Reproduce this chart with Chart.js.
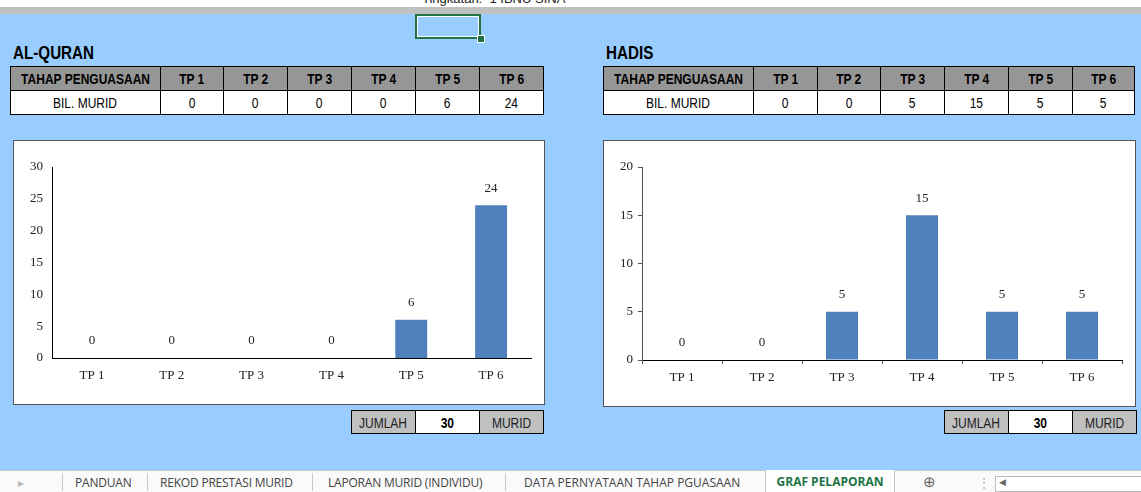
<!DOCTYPE html>
<html>
<head>
<meta charset="utf-8">
<script src="https://cdn.jsdelivr.net/npm/chart.js@4/dist/chart.umd.min.js"></script>
<style>
  html, body { margin: 0; padding: 0; }
  body { width: 1141px; height: 492px; position: relative; overflow: hidden; background: #99CCFF; font-family: "Liberation Sans", Arial, sans-serif; }
  .abs { position: absolute; }
  .narrow { display: inline-block; margin: 0 -40px; transform: scaleX(0.8); transform-origin: center; white-space: nowrap; }
  #topWhite { left: 0; top: 0; width: 1141px; height: 7px; background: #fff; overflow: hidden; }
  #topGray { left: 0; top: 7px; width: 1141px; height: 7px; background: #C0C0C0; }
  #tingkatan { left: 422px; top: -9px; font-size: 13px; color: #222; white-space: nowrap; }
  #cellSel { left: 415px; top: 14px; width: 62px; height: 21px; border: 2px solid #217346; box-shadow: inset 0 0 0 1px #fff; }
  #cellHandle { left: 477px; top: 35px; width: 6px; height: 6px; background: #217346; border: 1px solid #fff; }
  .title { font-weight: bold; font-size: 19px; color: #000; transform: scaleX(0.8); transform-origin: left center; }
  table.sheet { position: absolute; border-collapse: collapse; table-layout: fixed; }
  table.sheet td { border: 1px solid #000; height: 23px; padding: 0; text-align: center; font-size: 15px; color: #000; overflow: hidden; white-space: nowrap; }
  table.sheet tr.head td { background: #969696; font-weight: bold; }
  table.sheet tr.body td { background: #fff; }
  table.total td { background: #C0C0C0; color: #222; height: 22px; }
  table.total td.num { background: #fff; font-weight: bold; color: #000; }
  .chartBox { position: absolute; background: #fff; border: 1px solid #555; box-sizing: border-box; }
  .chartBox canvas { display: block; }
  #tabs { left: 0; top: 470px; width: 1141px; height: 22px; background: #fafafa; border-top: 1px solid #c6c6c6; font-family: "Open Sans", "Noto Sans", sans-serif; font-size: 12px; color: #444; }
  .tab { position: absolute; top: 3px; white-space: nowrap; letter-spacing: -0.2px; }
  .sep { position: absolute; top: 2px; width: 1px; height: 18px; background: #c8c8c8; }
  #active { position: absolute; left: 765px; top: -1px; width: 128px; height: 23px; background: #fff; border-left: 1px solid #c6c6c6; border-right: 1px solid #c6c6c6; color: #217346; font-weight: bold; text-align: center; line-height: 24px; }
</style>
</head>
<body>
<div class="abs" id="topWhite"><div class="abs" id="tingkatan">Tingkatan:&nbsp;&nbsp;1 IBNU SINA</div></div>
<div class="abs" id="topGray"></div>
<div class="abs" id="cellSel"></div>
<div class="abs" id="cellHandle"></div>

<div class="abs title" style="left:13px; top:42px;">AL-QURAN</div>
<div class="abs title" style="left:606px; top:42px;">HADIS</div>

<table class="sheet" id="tblQuran" style="left:10px; top:66px;"></table>
<table class="sheet" id="tblHadis" style="left:603px; top:66px;"></table>

<div class="chartBox" style="left:13px; top:140px; width:532px; height:265px;"><canvas id="chartQuran"></canvas></div>
<div class="chartBox" style="left:603px; top:140px; width:533px; height:267px;"><canvas id="chartHadis"></canvas></div>

<table class="sheet total" id="totQuran" style="left:351px; top:410px;"></table>
<table class="sheet total" id="totHadis" style="left:944px; top:410px;"></table>

<div class="abs" id="tabs">
  <div class="tab" style="left:18px; color:#bbb;">&#9656;</div>
  <div class="sep" style="left:62px;"></div>
  <div class="tab" style="left:75px;">PANDUAN</div>
  <div class="sep" style="left:147px;"></div>
  <div class="tab" style="left:160px;">REKOD PRESTASI MURID</div>
  <div class="sep" style="left:312px;"></div>
  <div class="tab" style="left:328px;">LAPORAN MURID (INDIVIDU)</div>
  <div class="sep" style="left:505px;"></div>
  <div class="tab" style="left:524px; letter-spacing:0px;">DATA PERNYATAAN TAHAP PGUASAAN</div>
  <div id="active">GRAF PELAPORAN</div>
  <div class="tab" style="left:923px; font-size:15px; top:0px; color:#666;">&#8853;</div>
  <div class="tab" style="left:978px; color:#aaa;">&#8942;</div>
  <div class="abs" style="left:995px; top:5px; width:146px; height:14px; border:1px solid #bbb; background:#fff;"></div>
  <div class="tab" style="left:999px; top:4px; font-size:9px; color:#666;">&#9664;</div>
</div>

<script>
// data ---------------------------------------------------------------------
var categories = ['TP 1', 'TP 2', 'TP 3', 'TP 4', 'TP 5', 'TP 6'];
var headerLabels = ['TP 1', 'TP 2', 'TP 3', 'TP 4', 'TP 5', 'TP 6'];
var quranValues = [0, 0, 0, 0, 6, 24];
var hadisValues = [0, 0, 5, 15, 5, 5];
var quranMax = 30;
var hadisMax = 20;

// tables -------------------------------------------------------------------
function cell(text, cls) {
    return '<td' + (cls ? ' class="' + cls + '"' : '') + '><span class="narrow">' + text + '</span></td>';
}
function fillTable(id, widths, values) {
    var t = document.getElementById(id);
    var total = widths.reduce(function (a, b) { return a + b; }, 0);
    t.style.width = total + 'px';
    var html = '<colgroup>';
    widths.forEach(function (w) { html += '<col style="width:' + w + 'px">'; });
    html += '</colgroup><tr class="head">' + cell('TAHAP PENGUASAAN');
    headerLabels.forEach(function (h) { html += cell(h); });
    html += '</tr><tr class="body">' + cell('BIL. MURID');
    values.forEach(function (v) { html += cell(v); });
    html += '</tr>';
    t.innerHTML = html;
}
function fillTotal(id, values) {
    var sum = values.reduce(function (a, b) { return a + b; }, 0);
    var t = document.getElementById(id);
    t.style.width = '192px';
    t.innerHTML =
        '<colgroup><col style="width:64px"><col style="width:64px"><col style="width:64px"></colgroup>' +
        '<tr>' + cell('JUMLAH') + cell(sum, 'num') + cell('MURID') + '</tr>';
}
fillTable('tblQuran', [150, 63, 64, 64, 64, 64, 64], quranValues);
fillTable('tblHadis', [150, 64, 63, 64, 64, 64, 62], hadisValues);
fillTotal('totQuran', quranValues);
fillTotal('totHadis', hadisValues);

// charts -------------------------------------------------------------------
var tickFont = { family: '"Liberation Serif", "DejaVu Serif", serif', size: 13 };

var valueLabels = {
    id: 'valueLabels',
    afterDatasetsDraw: function (chart) {
        var ctx = chart.ctx;
        var meta = chart.getDatasetMeta(0);
        var data = chart.data.datasets[0].data;
        ctx.save();
        ctx.font = '13px "Liberation Serif", "DejaVu Serif", serif';
        ctx.fillStyle = '#222';
        ctx.textAlign = 'center';
        ctx.textBaseline = 'middle';
        meta.data.forEach(function (bar, i) {
            ctx.fillText(data[i], bar.x, bar.y - 17);
        });
        ctx.restore();
    }
};

function makeChart(canvasId, values, maxVal, withTicks) {
    var ctx = document.getElementById(canvasId).getContext('2d');
    return new Chart(ctx, {
        type: 'bar',
        data: {
            labels: categories,
            datasets: [{
                data: values,
                backgroundColor: '#4F81BD',
                borderWidth: 0,
                barPercentage: 0.4,
                categoryPercentage: 1.0
            }]
        },
        options: {
            responsive: true,
            maintainAspectRatio: false,
            animation: false,
            layout: { padding: { top: 26, right: 13, left: 0, bottom: 0 } },
            plugins: { legend: { display: false }, tooltip: { enabled: false } },
            scales: {
                x: {
                    grid: { display: withTicks, drawOnChartArea: false, drawTicks: withTicks, tickLength: 4, color: '#555' },
                    border: { display: true, color: '#000', width: 1 },
                    ticks: { color: '#222', font: tickFont, padding: withTicks ? 6 : 10, maxRotation: 0 },
                    afterFit: function (scale) { scale.height = 46; }
                },
                y: {
                    min: 0,
                    max: maxVal,
                    grid: { display: withTicks, drawOnChartArea: false, drawTicks: withTicks, tickLength: 4, color: '#555' },
                    border: { display: true, color: withTicks ? '#555' : '#000', width: 1 },
                    ticks: { stepSize: 5, color: '#222', font: tickFont, padding: withTicks ? 5 : 9 },
                    afterFit: function (scale) { scale.width = 38; }
                }
            }
        },
        plugins: [valueLabels]
    });
}

makeChart('chartQuran', quranValues, quranMax, false);
makeChart('chartHadis', hadisValues, hadisMax, true);
</script>
</body>
</html>
